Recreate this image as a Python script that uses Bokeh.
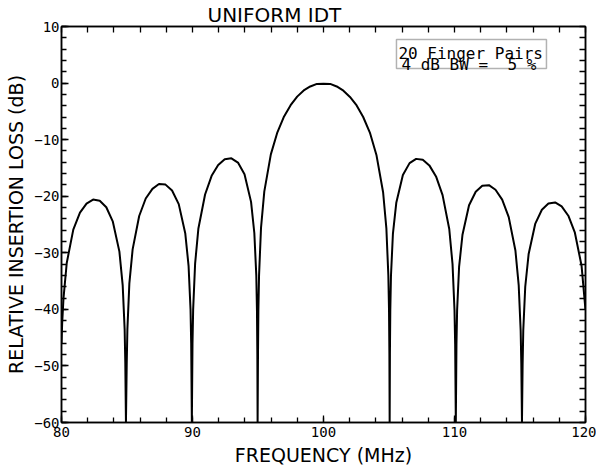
from bokeh.plotting import figure
from bokeh.models import Range1d, LinearAxis, SingleIntervalTicker, FixedTicker, Label, BoxAnnotation
from bokeh.embed import file_html
from bokeh.resources import INLINE

# Frequency (MHz) and relative insertion loss (dB)
freq = [80.00, 80.05, 80.15, 80.40, 80.90, 81.41, 81.91, 82.41, 82.92, 83.42, 83.92, 84.42, 84.67,
        84.82, 84.87, 84.92, 84.98, 85.03, 85.18, 85.43, 85.93, 86.43, 86.94, 87.44, 87.94, 88.44,
        88.95, 89.45, 89.70, 89.85, 89.90, 89.95, 90.00, 90.05, 90.20, 90.45, 90.96, 91.46, 91.96,
        92.46, 92.97, 93.47, 93.97, 94.47, 94.72, 94.87, 94.92, 94.95, 94.97, 95.00, 95.03, 95.08,
        95.23, 95.48, 95.98, 96.48, 96.99, 97.49, 97.99, 98.49, 98.99, 99.50, 100.00,
        100.51, 101.01, 101.52, 102.02, 102.53, 103.03, 103.54, 104.04, 104.55, 104.80, 104.95,
        105.00, 105.03, 105.05, 105.07, 105.10, 105.15, 105.30, 105.56, 106.06, 106.57, 107.07,
        107.58, 108.08, 108.59, 109.09, 109.60, 109.85, 110.00, 110.05, 110.10, 110.15, 110.20,
        110.35, 110.61, 111.11, 111.62, 112.12, 112.63, 113.13, 113.64, 114.14, 114.65, 114.90,
        115.05, 115.10, 115.15, 115.20, 115.25, 115.40, 115.66, 116.16, 116.67, 117.17, 117.68,
        118.18, 118.69, 119.19, 119.70, 120.00]
loss_db = [-46.0, -42.5, -38.1, -31.8, -25.9, -22.9, -21.3, -20.6, -20.8, -21.95, -24.5, -29.8, -35.7,
           -43.5, -49.5, -60.0, -49.5, -43.5, -35.4, -29.4, -23.5, -20.4, -18.7, -17.85, -17.95, -19.0,
           -21.4, -26.6, -32.3, -40.0, -46.0, -60.0, -46.0, -40.0, -31.9, -25.7, -19.7, -16.4, -14.5,
           -13.45, -13.3, -14.05, -16.1, -21.0, -26.5, -34.0, -40.0, -48.0, -60.0, -48.0, -40.0, -34.0,
           -25.6, -19.2, -12.6, -8.7, -5.9, -3.9, -2.4, -1.3, -0.6, -0.15, -0.1,
           -0.15, -0.6, -1.35, -2.45, -3.95, -6.0, -8.75, -12.7, -19.3, -25.7, -34.0,
           -40.0, -48.0, -60.0, -48.0, -40.0, -34.1, -26.6, -21.1, -16.25, -14.15, -13.4,
           -13.55, -14.55, -16.5, -19.8, -25.8, -32.0, -40.1, -46.1, -60.0, -46.1, -40.1,
           -32.5, -26.8, -21.6, -19.2, -18.15, -18.05, -18.85, -20.6, -23.7, -29.6, -35.7,
           -43.7, -49.7, -60.0, -49.7, -43.7, -36.0, -30.2, -24.9, -22.4, -21.3, -21.1,
           -21.8, -23.45, -26.45, -32.3, -40.1]

# tick positions
x_minor_ticks = [80, 82, 84, 86, 88, 90, 92, 94, 96, 98, 100, 102, 104, 106, 108, 110,
                 112, 114, 116, 118, 120]
y_minor_ticks = [-60, -58, -56, -54, -52, -50, -48, -46, -44, -42, -40, -38, -36, -34, -32, -30,
                 -28, -26, -24, -22, -20, -18, -16, -14, -12, -10, -8, -6, -4, -2, 0, 2, 4, 6, 8, 10]

title_text = "UNIFORM IDT"
x_label = "FREQUENCY (MHz)"
y_label = "RELATIVE INSERTION LOSS (dB)"
note_line1 = "20 Finger Pairs"
note_line2 = "4 dB BW = \u00a05 %"

p = figure(frame_width=524, frame_height=396, width=596, height=471,
           x_range=Range1d(80, 120), y_range=Range1d(-60, 10),
           output_backend="svg", toolbar_location=None,
           min_border_left=61, min_border_right=11, min_border_top=26, min_border_bottom=49)
p.background_fill_color = "white"
p.border_fill_color = "white"
p.outline_line_color = "black"
p.outline_line_width = 1.5
p.xgrid.visible = False
p.ygrid.visible = False

tick_font = "DejaVu Sans Mono"
label_font = "DejaVu Sans"

p.title.text = title_text
p.title.align = "left"
p.title.offset = 146
p.title.text_font = label_font
p.title.text_font_size = "20px"
p.title.text_font_style = "normal"
p.title.text_color = "black"
p.title.standoff = 0


def style_axis(ax):
    ax.axis_line_color = "black"
    ax.axis_line_width = 1.5
    ax.major_tick_in = 7
    ax.major_tick_out = 0
    ax.minor_tick_in = 5
    ax.minor_tick_out = 0
    ax.major_tick_line_color = "black"
    ax.minor_tick_line_color = "black"
    ax.major_tick_line_width = 1.3
    ax.minor_tick_line_width = 1.3
    ax.major_label_text_font = tick_font
    ax.major_label_text_font_size = "14px"
    ax.major_label_text_color = "black"
    ax.axis_label_text_font = label_font
    ax.axis_label_text_font_size = "19px"
    ax.axis_label_text_font_style = "normal"
    ax.axis_label_text_color = "black"


p.xaxis.ticker = SingleIntervalTicker(interval=10, num_minor_ticks=5)
p.yaxis.ticker = SingleIntervalTicker(interval=10, num_minor_ticks=5)
style_axis(p.xaxis[0])
style_axis(p.yaxis[0])
p.xaxis.major_label_standoff = 4
p.yaxis.major_label_standoff = 2
p.xaxis.axis_label = x_label
p.yaxis.axis_label = y_label
p.xaxis.axis_label_standoff = 4
p.yaxis.axis_label_standoff = 4

# top and right frames carry tick marks only
top_ax = LinearAxis(ticker=FixedTicker(ticks=[], minor_ticks=x_minor_ticks))
right_ax = LinearAxis(ticker=FixedTicker(ticks=[], minor_ticks=y_minor_ticks))
for ax in (top_ax, right_ax):
    style_axis(ax)
    ax.minor_tick_in = 6
    ax.major_label_standoff = 0
p.add_layout(top_ax, "above")
p.add_layout(right_ax, "right")

p.line(freq, loss_db, line_color="black", line_width=2)

p.add_layout(BoxAnnotation(left=105.57, right=117.02, top=7.70, bottom=2.58,
                           fill_alpha=0, line_color="black", line_width=1.5))
p.add_layout(Label(x=105.72, y=5.2, text=note_line1, text_baseline="alphabetic",
                   text_font=tick_font, text_font_size="16px", text_color="black"))
p.add_layout(Label(x=105.95, y=3.25, text=note_line2, text_baseline="alphabetic",
                   text_font=tick_font, text_font_size="16px", text_color="black"))

open("out.html", "w").write(file_html(p, INLINE))
